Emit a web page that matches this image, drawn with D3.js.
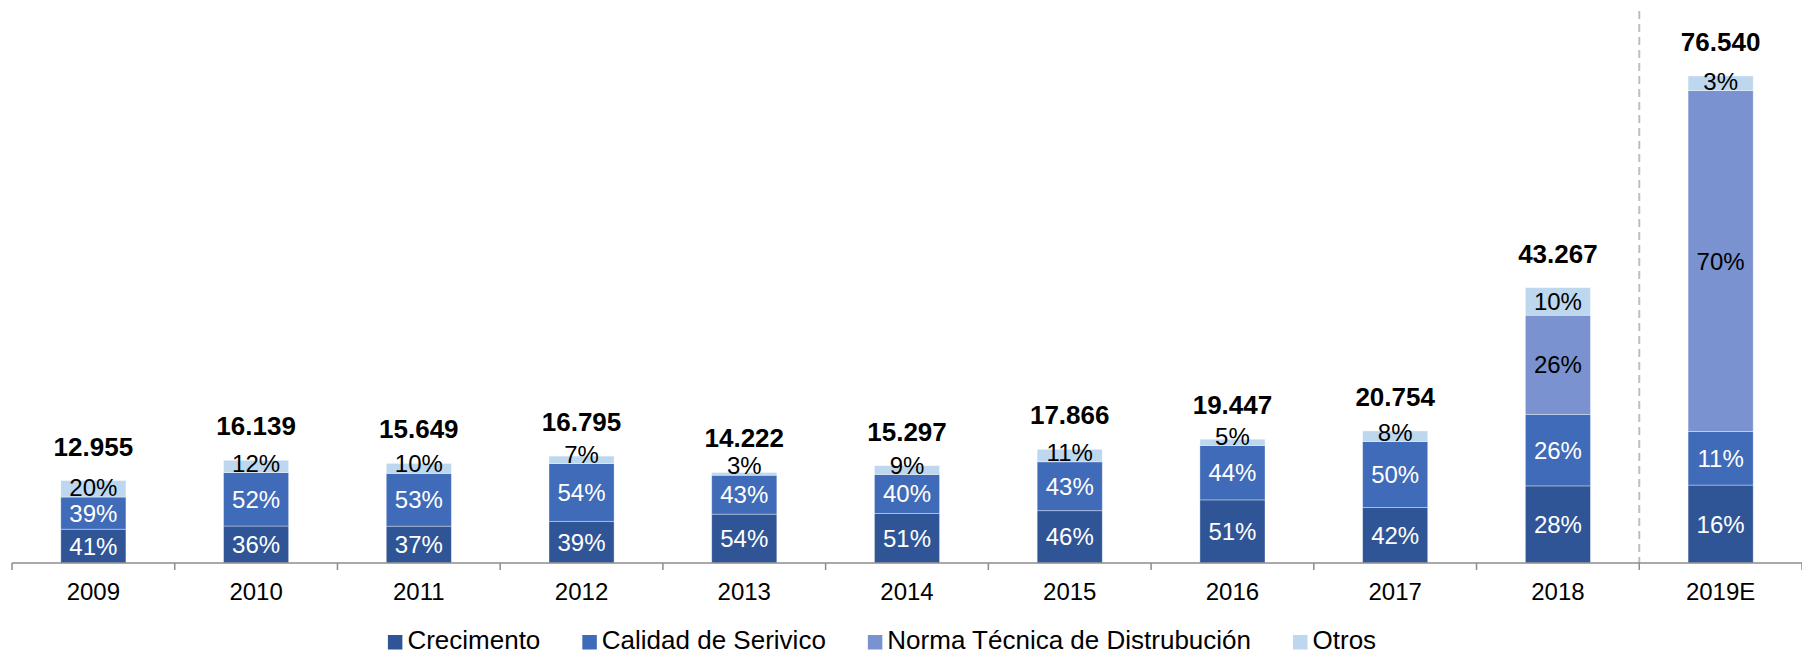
<!DOCTYPE html>
<html>
<head>
<meta charset="utf-8">
<script src="https://cdn.jsdelivr.net/npm/d3@7/dist/d3.min.js"></script>
<style>
  body { margin: 0; background: #ffffff; }
</style>
</head>
<body>
<script>
// categories and totals (millones)
const years = ["2009", "2010", "2011", "2012", "2013", "2014", "2015", "2016", "2017", "2018", "2019E"];
const totals = [12.955, 16.139, 15.649, 16.795, 14.222, 15.297, 17.866, 19.447, 20.754, 43.267, 76.540];
const totalLabels = ["12.955", "16.139", "15.649", "16.795", "14.222", "15.297", "17.866", "19.447", "20.754", "43.267", "76.540"];

// share of each bar (%), as drawn
const crecimiento = [41, 36, 37, 39, 54, 51, 46, 51, 42, 28, 16];
const calidad     = [39, 52, 53, 54, 43, 40, 43, 44, 50, 26, 11];
const norma       = [0, 0, 0, 0, 0, 0, 0, 0, 0, 36, 70];
const otros       = [20, 12, 10, 7, 3, 9, 11, 5, 8, 10, 3];

// printed labels (2018 norma is printed as 26%)
const normaLabels = ["", "", "", "", "", "", "", "", "", "26%", "70%"];

const seriesNames = ["Crecimento", "Calidad de Serivico", "Norma Técnica de Distrubución", "Otros"];
const seriesColors = ["#2f5597", "#3f6bb8", "#7a92cf", "#bdd7ee"];
const labelColors = ["#ffffff", "#ffffff", "#000000", "#000000"];

let canvasW = 1802;
let canvasH = 655;
let font = "'Liberation Sans', Arial, sans-serif";

let svg = d3.select("body").append("svg")
  .attr("width", canvasW)
  .attr("height", canvasH)
  .style("background-color", "#ffffff");

let x = d3.scaleBand()
  .domain(years)
  .range([12, 1802])
  .paddingInner(0.6)
  .paddingOuter(0.3);

let y = d3.scaleLinear()
  .domain([0, 88])
  .range([563, 3]);

let shares = [crecimiento, calidad, norma, otros];

// build the stacked segments
let segments = [];
years.forEach((yr, i) => {
  let sum = d3.sum(shares, s => s[i]);
  let acc = 0;
  shares.forEach((s, k) => {
    if (s[i] <= 0) return;
    let v0 = totals[i] * acc / sum;
    acc += s[i];
    let v1 = totals[i] * acc / sum;
    let label = k == 2 ? normaLabels[i] : s[i] + "%";
    segments.push({ year: yr, k: k, v0: v0, v1: v1, label: label });
  });
});

// dashed separator before the estimate
let sepX = x.range()[0] + x.step() * years.indexOf("2019E");
svg.append("line")
  .attr("x1", sepX).attr("x2", sepX)
  .attr("y1", 11).attr("y2", y(0))
  .attr("stroke", "#bfbfbf")
  .attr("stroke-width", 2)
  .attr("stroke-dasharray", "8,5");

svg.selectAll(".seg")
  .data(segments)
  .enter().append("rect")
  .attr("class", "seg")
  .attr("x", d => x(d.year))
  .attr("width", x.bandwidth())
  .attr("y", d => y(d.v1))
  .attr("height", d => y(d.v0) - y(d.v1))
  .attr("fill", d => seriesColors[d.k])
  .attr("stroke", "rgba(255,255,255,0.45)")
  .attr("stroke-width", 0.8);

svg.selectAll(".pct")
  .data(segments)
  .enter().append("text")
  .attr("class", "pct")
  .attr("text-anchor", "middle")
  .attr("font-family", font)
  .attr("font-size", "24px")
  .attr("fill", d => labelColors[d.k])
  .attr("x", d => x(d.year) + x.bandwidth() / 2)
  .attr("y", d => {
    let mid = (y(d.v0) + y(d.v1)) / 2;
    let cy = Math.min(mid, y(d.v0) - 9.5);
    return cy + 8.6;
  })
  .text(d => d.label);

svg.selectAll(".total")
  .data(years)
  .enter().append("text")
  .attr("class", "total")
  .attr("text-anchor", "middle")
  .attr("font-family", font)
  .attr("font-weight", "bold")
  .attr("font-size", "26px")
  .attr("fill", "#000000")
  .attr("x", d => x(d) + x.bandwidth() / 2)
  .attr("y", (d, i) => y(totals[i]) - 25)
  .text((d, i) => totalLabels[i]);

// x axis, ticks between categories
svg.append("line")
  .attr("x1", x.range()[0]).attr("x2", x.range()[1])
  .attr("y1", y(0)).attr("y2", y(0))
  .attr("stroke", "#8c8c8c")
  .attr("stroke-width", 1.5);

svg.selectAll(".tick")
  .data(d3.range(years.length + 1))
  .enter().append("line")
  .attr("class", "tick")
  .attr("x1", d => x.range()[0] + d * x.step())
  .attr("x2", d => x.range()[0] + d * x.step())
  .attr("y1", y(0))
  .attr("y2", y(0) + 7)
  .attr("stroke", "#8c8c8c")
  .attr("stroke-width", 1.5);

svg.selectAll(".xlab")
  .data(years)
  .enter().append("text")
  .attr("class", "xlab")
  .attr("text-anchor", "middle")
  .attr("font-family", font)
  .attr("font-size", "24px")
  .attr("fill", "#000000")
  .attr("x", d => x(d) + x.bandwidth() / 2)
  .attr("y", 600)
  .text(d => d);

// legend
let legend = svg.append("g");
let lx = 0;
seriesNames.forEach((name, k) => {
  let g = legend.append("g").attr("transform", "translate(" + lx + ",0)");
  g.append("rect")
    .attr("x", 0).attr("y", -14)
    .attr("width", 14.5).attr("height", 14.5)
    .attr("fill", seriesColors[k]);
  let t = g.append("text")
    .attr("x", 19.5)
    .attr("y", 0)
    .attr("font-family", font)
    .attr("font-size", "26px")
    .attr("fill", "#000000")
    .text(name);
  lx += 19.5 + t.node().getComputedTextLength() + 42;
});
let legendW = lx - 42;
legend.attr("transform", "translate(" + (882 - legendW / 2) + ",649)");
</script>
</body>
</html>
